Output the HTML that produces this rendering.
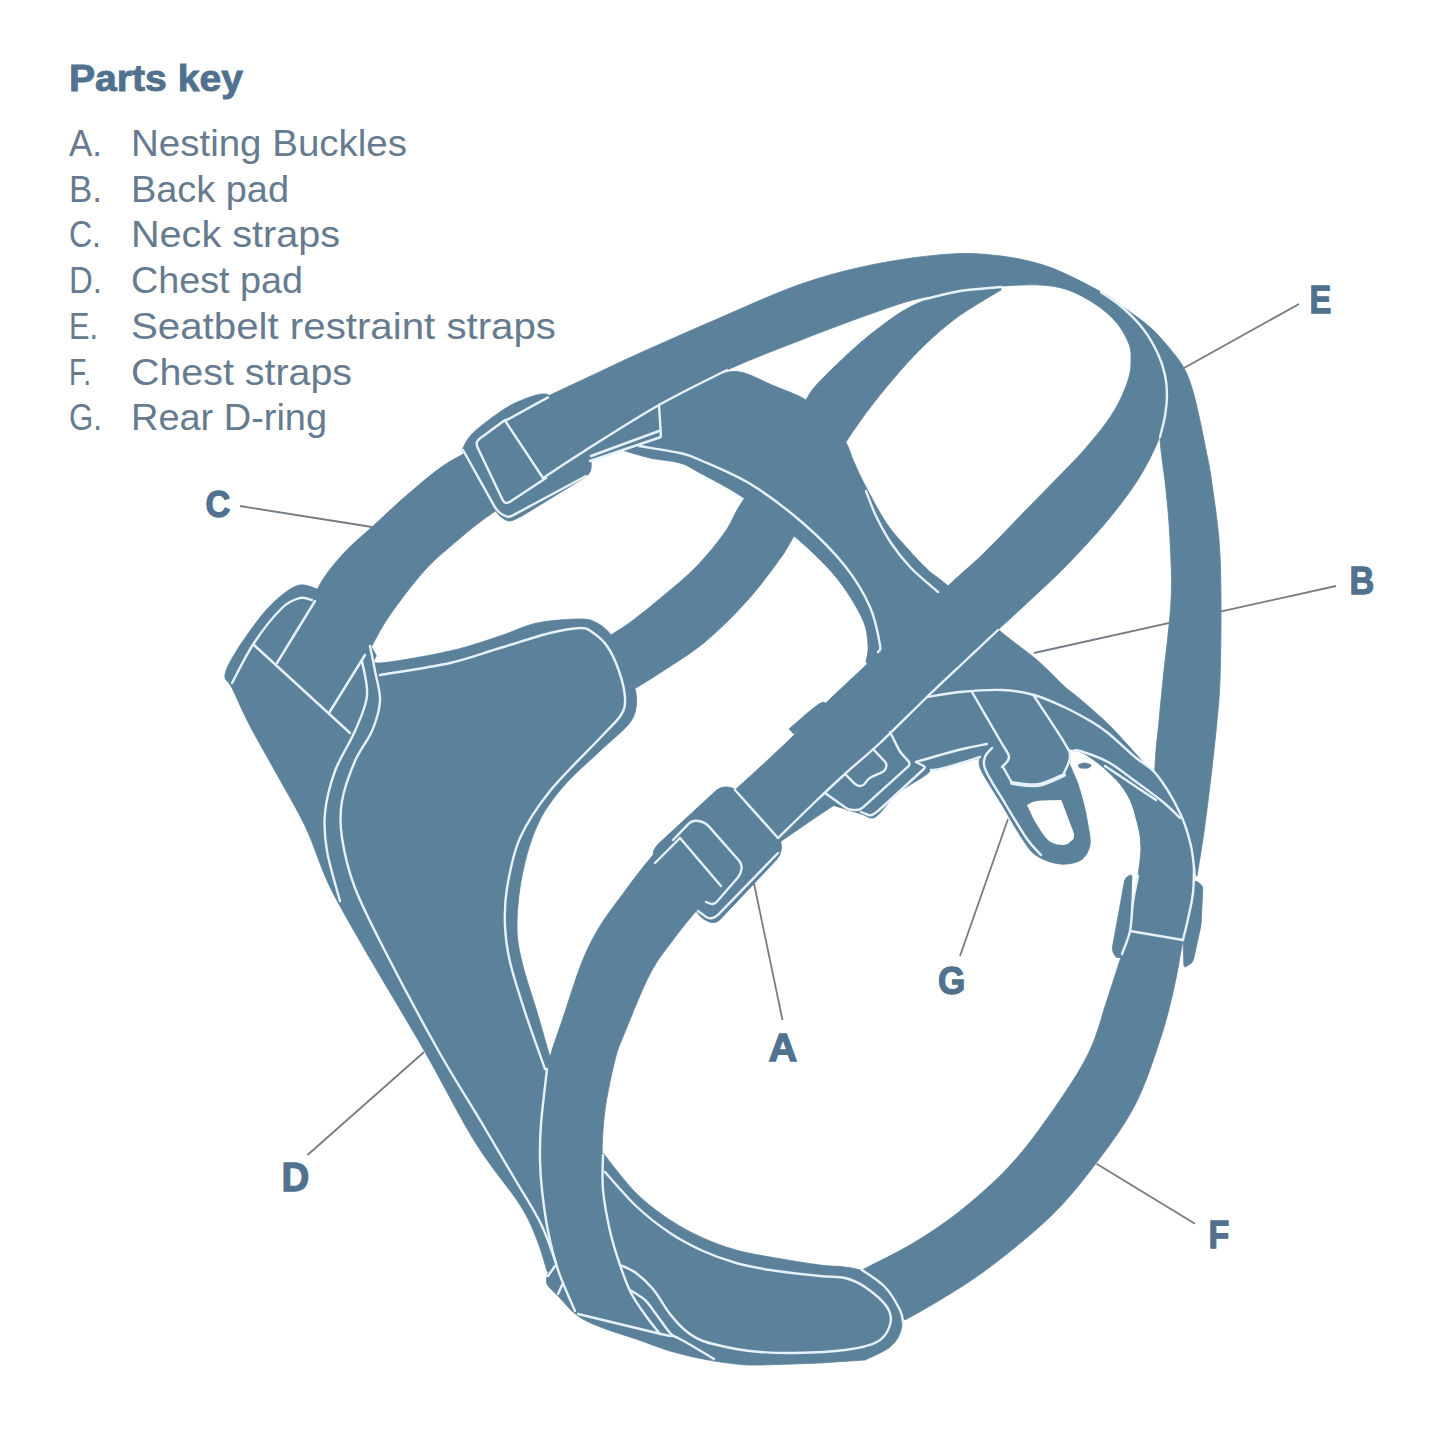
<!DOCTYPE html>
<html><head><meta charset="utf-8"><title>Parts key</title>
<style>
html,body{margin:0;padding:0;background:#fff;}
body{width:1445px;height:1445px;overflow:hidden;font-family:"Liberation Sans",sans-serif;}
svg{display:block;}
svg text{font-family:"Liberation Sans",sans-serif;}
</style></head><body>
<svg width="1445" height="1445" viewBox="0 0 1445 1445">
<rect width="1445" height="1445" fill="#ffffff"/>
<g stroke="#747c84" stroke-width="1.8" fill="none">
<path d="M1336.0 586.0 L1034.0 653.0"/>
</g>
<g fill="#5c819b" stroke="#5c819b" stroke-width="0.8" stroke-linejoin="round">
<path d="M540.0 399.0C541.3 398.5 538.8 400.2 548.0 396.0C557.2 391.8 579.7 381.2 595.0 374.0C610.3 366.8 620.0 362.0 640.0 353.0C660.0 344.0 688.2 331.5 715.0 320.0C741.8 308.5 774.2 293.3 801.0 284.0C827.8 274.7 851.0 269.0 876.0 264.0C901.0 259.0 930.2 255.3 951.0 254.0C971.8 252.7 986.2 254.3 1001.0 256.0C1015.8 257.7 1028.8 260.8 1040.0 264.0C1051.2 267.2 1058.8 270.8 1068.0 275.0C1077.2 279.2 1085.8 283.7 1095.0 289.0C1104.2 294.3 1113.7 300.5 1123.0 307.0C1132.3 313.5 1143.0 320.8 1151.0 328.0C1159.0 335.2 1165.5 343.3 1171.0 350.0C1176.5 356.7 1180.5 361.7 1184.0 368.0C1187.5 374.3 1189.5 380.0 1192.0 388.0C1194.5 396.0 1196.7 405.7 1199.0 416.0C1201.3 426.3 1204.0 439.8 1206.0 450.0C1208.0 460.2 1208.8 462.0 1211.0 477.0C1213.2 492.0 1217.3 519.3 1219.0 540.0C1220.7 560.7 1220.8 577.7 1221.0 601.0C1221.2 624.3 1220.7 660.0 1220.0 680.0C1219.3 700.0 1218.5 704.8 1217.0 721.0C1215.5 737.2 1213.2 758.5 1211.0 777.0C1208.8 795.5 1206.3 815.5 1204.0 832.0C1201.7 848.5 1198.2 868.7 1197.0 876.0L1150.0 876.0C1150.8 857.7 1153.5 791.8 1155.0 766.0C1156.5 740.2 1157.7 735.3 1159.0 721.0C1160.3 706.7 1161.0 700.0 1163.0 680.0C1165.0 660.0 1169.8 624.3 1171.0 601.0C1172.2 577.7 1170.8 558.5 1170.0 540.0C1169.2 521.5 1167.7 507.2 1166.0 490.0C1164.3 472.8 1160.2 449.3 1160.0 437.0C1159.8 424.7 1163.8 423.0 1165.0 416.0C1166.2 409.0 1167.0 401.8 1167.0 395.0C1167.0 388.2 1166.5 381.8 1165.0 375.0C1163.5 368.2 1161.5 361.5 1158.0 354.0C1154.5 346.5 1149.8 337.7 1144.0 330.0C1138.2 322.3 1130.2 314.3 1123.0 308.0C1115.8 301.7 1110.2 296.3 1101.0 292.0C1091.8 287.7 1078.2 284.0 1068.0 282.0C1057.8 280.0 1051.2 279.3 1040.0 280.0C1028.8 280.7 1020.0 283.2 1001.0 286.0C982.0 288.8 946.8 292.7 926.0 297.0C905.2 301.3 896.8 304.8 876.0 312.0C855.2 319.2 825.8 330.3 801.0 340.0C776.2 349.7 750.7 359.2 727.0 370.0C703.3 380.8 682.5 391.7 659.0 405.0C635.5 418.3 598.2 442.5 586.0 450.0Z"/>
<path d="M586.0 450.0L590.0 461.0L661.0 437.0L659.0 405.0Z"/>
<path d="M1001.0 286.0C1007.5 285.8 1028.8 284.3 1040.0 285.0C1051.2 285.7 1058.8 286.8 1068.0 290.0C1077.2 293.2 1087.0 298.7 1095.0 304.0C1103.0 309.3 1110.3 315.3 1116.0 322.0C1121.7 328.7 1126.5 337.5 1129.0 344.0C1131.5 350.5 1131.0 355.5 1131.0 361.0C1131.0 366.5 1130.8 370.5 1129.0 377.0C1127.2 383.5 1123.8 392.3 1120.0 400.0C1116.2 407.7 1112.0 414.7 1106.0 423.0C1100.0 431.3 1090.5 442.5 1084.0 450.0C1077.5 457.5 1076.8 457.8 1067.0 468.0C1057.2 478.2 1038.8 496.8 1025.0 511.0C1011.2 525.2 997.0 540.3 984.0 553.0C971.0 565.7 964.3 570.5 947.0 587.0C929.7 603.5 899.7 633.2 880.0 652.0C860.3 670.8 844.2 685.3 829.0 700.0C813.8 714.7 802.8 726.7 789.0 740.0C775.2 753.3 755.0 771.7 746.0 780.0C737.0 788.3 736.8 788.3 735.0 790.0L778.0 838.0C784.0 832.2 802.7 813.8 814.0 803.0C825.3 792.2 835.0 783.0 846.0 773.0C857.0 763.0 866.7 755.5 880.0 743.0C893.3 730.5 912.2 711.3 926.0 698.0C939.8 684.7 951.0 674.3 963.0 663.0C975.0 651.7 987.7 639.7 998.0 630.0C1008.3 620.3 1013.5 615.8 1025.0 605.0C1036.5 594.2 1053.2 579.2 1067.0 565.0C1080.8 550.8 1096.0 534.5 1108.0 520.0C1120.0 505.5 1130.7 491.2 1139.0 478.0C1147.3 464.8 1153.7 451.3 1158.0 441.0C1162.3 430.7 1163.5 423.7 1165.0 416.0C1166.5 408.3 1167.0 401.8 1167.0 395.0C1167.0 388.2 1166.5 381.8 1165.0 375.0C1163.5 368.2 1161.5 361.5 1158.0 354.0C1154.5 346.5 1149.8 337.7 1144.0 330.0C1138.2 322.3 1130.5 314.5 1123.0 308.0C1115.5 301.5 1111.0 297.7 1099.0 291.0C1087.0 284.3 1059.0 271.8 1051.0 268.0Z"/>
<path d="M789.0 729.0C794.0 724.8 813.2 707.5 819.0 704.0C824.8 700.5 828.2 703.0 824.0 708.0C819.8 713.0 799.0 729.7 794.0 734.0Z"/>
<path d="M778.0 838.0C789.3 827.2 832.0 781.0 846.0 773.0C860.0 765.0 864.2 784.5 862.0 790.0C859.8 795.5 846.7 797.3 833.0 806.0C819.3 814.7 788.8 836.0 780.0 842.0Z"/>
<path d="M1001.0 286.0C988.5 288.3 946.8 292.7 926.0 300.0C905.2 307.3 892.7 317.5 876.0 330.0C859.3 342.5 837.7 363.3 826.0 375.0C814.3 386.7 812.0 389.2 806.0 400.0C800.0 410.8 800.3 423.5 790.0 440.0C779.7 456.5 754.8 483.7 744.0 499.0C733.2 514.3 733.0 520.7 725.0 532.0C717.0 543.3 706.3 556.3 696.0 567.0C685.7 577.7 673.7 587.0 663.0 596.0C652.3 605.0 640.7 614.5 632.0 621.0C623.3 627.5 614.5 632.7 611.0 635.0L636.0 688.0C640.5 685.2 651.5 678.7 663.0 671.0C674.5 663.3 691.2 653.5 705.0 642.0C718.8 630.5 734.0 615.2 746.0 602.0C758.0 588.8 769.0 574.0 777.0 563.0C785.0 552.0 782.5 556.2 794.0 536.0C805.5 515.8 828.2 469.7 846.0 442.0C863.8 414.3 883.5 390.0 901.0 370.0C918.5 350.0 934.3 335.3 951.0 322.0C967.7 308.7 992.7 295.3 1001.0 290.0Z"/>
<path d="M622.0 450.0C625.0 445.0 630.3 429.7 640.0 420.0C649.7 410.3 667.5 399.3 680.0 392.0C692.5 384.7 705.0 379.3 715.0 376.0C725.0 372.7 730.5 370.5 740.0 372.0C749.5 373.5 761.0 380.3 772.0 385.0C783.0 389.7 797.0 394.2 806.0 400.0C815.0 405.8 819.5 413.2 826.0 420.0C832.5 426.8 840.3 434.0 845.0 441.0C849.7 448.0 850.5 454.3 854.0 462.0C857.5 469.7 860.5 476.7 866.0 487.0C871.5 497.3 880.0 513.7 887.0 524.0C894.0 534.3 901.2 541.3 908.0 549.0C914.8 556.7 921.5 564.0 928.0 570.0C934.5 576.0 935.0 574.8 947.0 585.0C959.0 595.2 985.0 618.5 1000.0 631.0C1015.0 643.5 1026.3 650.8 1037.0 660.0C1047.7 669.2 1056.8 679.5 1064.0 686.0C1071.2 692.5 1072.7 692.7 1080.0 699.0C1087.3 705.3 1098.8 715.0 1108.0 724.0C1117.2 733.0 1127.0 744.2 1135.0 753.0C1143.0 761.8 1149.0 768.3 1156.0 777.0C1163.0 785.7 1171.7 795.8 1177.0 805.0C1182.3 814.2 1185.0 820.5 1188.0 832.0C1191.0 843.5 1193.8 867.0 1195.0 874.0L1141.0 846.0C1140.5 842.5 1141.3 835.2 1138.0 825.0C1134.7 814.8 1132.8 798.2 1121.0 785.0C1109.2 771.8 1089.3 752.8 1067.0 746.0C1044.7 739.2 1009.8 748.3 987.0 744.0C964.2 739.7 947.8 730.7 930.0 720.0C912.2 709.3 888.3 686.7 880.0 680.0L866.0 662.0C866.3 659.2 868.7 652.3 868.0 645.0C867.3 637.7 867.5 629.5 862.0 618.0C856.5 606.5 846.5 589.8 835.0 576.0C823.5 562.2 808.2 548.0 793.0 535.0C777.8 522.0 759.5 508.3 744.0 498.0C728.5 487.7 710.7 478.8 700.0 473.0C689.3 467.2 688.3 465.5 680.0 463.0C671.7 460.5 659.7 460.2 650.0 458.0C640.3 455.8 626.7 451.3 622.0 450.0Z"/>
<path d="M300.0 640.0C302.8 631.7 310.0 604.2 317.0 590.0C324.0 575.8 332.8 565.5 342.0 555.0C351.2 544.5 361.2 537.0 372.0 527.0C382.8 517.0 395.7 504.8 407.0 495.0C418.3 485.2 430.3 475.0 440.0 468.0C449.7 461.0 460.8 455.5 465.0 453.0L497.0 510.0C494.2 512.0 486.5 517.0 480.0 522.0C473.5 527.0 467.2 532.0 458.0 540.0C448.8 548.0 436.3 557.5 425.0 570.0C413.7 582.5 399.2 601.8 390.0 615.0C380.8 628.2 378.3 634.8 370.0 649.0C361.7 663.2 345.0 691.5 340.0 700.0Z"/>
<path d="M462.0 450.0C463.8 447.2 465.7 440.0 473.0 433.0C480.3 426.0 496.0 414.2 506.0 408.0C516.0 401.8 526.3 398.3 533.0 396.0C539.7 393.7 543.2 393.8 546.0 394.0C548.8 394.2 549.3 396.5 550.0 397.0L586.0 450.0C586.8 452.0 590.3 458.3 591.0 462.0C591.7 465.7 591.2 469.3 590.0 472.0C588.8 474.7 585.0 477.0 584.0 478.0L522.0 516.0C520.0 516.8 513.5 520.8 510.0 521.0C506.5 521.2 503.5 518.8 501.0 517.0C498.5 515.2 496.0 511.2 495.0 510.0Z"/>
<path d="M317.0 589.0C314.2 588.3 305.8 584.0 300.0 585.0C294.2 586.0 288.3 590.0 282.0 595.0C275.7 600.0 269.5 605.8 262.0 615.0C254.5 624.2 243.2 640.0 237.0 650.0C230.8 660.0 225.8 668.7 225.0 675.0C224.2 681.3 227.8 679.5 232.0 688.0C236.2 696.5 242.8 712.2 250.0 726.0C257.2 739.8 265.8 754.3 275.0 771.0C284.2 787.7 296.7 808.5 305.0 826.0C313.3 843.5 319.2 862.7 325.0 876.0C330.8 889.3 332.2 891.7 340.0 906.0C347.8 920.3 357.8 937.7 372.0 962.0C386.2 986.3 407.8 1022.0 425.0 1052.0C442.2 1082.0 459.2 1116.5 475.0 1142.0C490.8 1167.5 509.7 1188.7 520.0 1205.0C530.3 1221.3 532.5 1229.0 537.0 1240.0C541.5 1251.0 545.3 1265.8 547.0 1271.0L560.0 1280.0L600.0 1200.0L550.0 1057.0C547.8 1049.5 541.7 1027.8 537.0 1012.0C532.3 996.2 525.3 976.3 522.0 962.0C518.7 947.7 517.0 940.3 517.0 926.0C517.0 911.7 518.7 892.7 522.0 876.0C525.3 859.3 530.3 840.7 537.0 826.0C543.7 811.3 551.5 800.5 562.0 788.0C572.5 775.5 589.0 761.5 600.0 751.0C611.0 740.5 622.0 732.2 628.0 725.0C634.0 717.8 634.8 714.2 636.0 708.0C637.2 701.8 636.7 695.8 635.0 688.0C633.3 680.2 630.0 669.8 626.0 661.0C622.0 652.2 615.8 641.3 611.0 635.0C606.2 628.7 602.2 625.7 597.0 623.0C591.8 620.3 590.0 619.0 580.0 619.0C570.0 619.0 550.3 620.2 537.0 623.0C523.7 625.8 514.5 631.3 500.0 636.0C485.5 640.7 470.0 646.5 450.0 651.0C430.0 655.5 392.3 662.3 380.0 663.0C367.7 663.7 377.5 657.8 376.0 655.0C374.5 652.2 371.8 647.5 371.0 646.0L368.0 650.0L340.0 620.0Z"/>
<path d="M715.8 790.8Q721.0 786.0 728.0 787.0L728.0 787.0Q735.0 788.0 739.7 793.3L777.3 835.7Q782.0 841.0 781.5 848.0L781.5 848.0Q781.0 855.0 776.2 860.1L720.7 919.0Q716.0 924.0 709.5 922.0L709.5 922.0Q703.0 920.0 698.8 914.6L654.7 857.5Q652.0 854.0 654.0 850.0L654.0 850.0Q656.0 846.0 659.3 843.0Z"/>
<path d="M653.0 855.0C650.8 857.7 644.7 865.0 640.0 871.0C635.3 877.0 631.7 881.8 625.0 891.0C618.3 900.2 607.2 914.2 600.0 926.0C592.8 937.8 587.8 947.7 582.0 962.0C576.2 976.3 570.8 994.2 565.0 1012.0C559.2 1029.8 551.0 1050.3 547.0 1069.0C543.0 1087.7 542.2 1108.8 541.0 1124.0C539.8 1139.2 539.8 1149.0 540.0 1160.0C540.2 1171.0 540.7 1178.2 542.0 1190.0C543.3 1201.8 545.3 1217.7 548.0 1231.0C550.7 1244.3 553.5 1256.7 558.0 1270.0C562.5 1283.3 572.2 1304.2 575.0 1311.0L660.0 1334.0C657.7 1331.0 650.8 1322.8 646.0 1316.0C641.2 1309.2 635.3 1301.5 631.0 1293.0C626.7 1284.5 623.5 1275.3 620.0 1265.0C616.5 1254.7 612.8 1243.5 610.0 1231.0C607.2 1218.5 604.3 1202.7 603.0 1190.0C601.7 1177.3 601.7 1168.3 602.0 1155.0C602.3 1141.7 602.8 1125.8 605.0 1110.0C607.2 1094.2 611.7 1073.0 615.0 1060.0C618.3 1047.0 619.2 1046.3 625.0 1032.0C630.8 1017.7 642.0 989.3 650.0 974.0C658.0 958.7 665.0 950.8 673.0 940.0C681.0 929.2 690.0 918.0 698.0 909.0C706.0 900.0 717.2 889.8 721.0 886.0Z"/>
<path d="M603.0 1153.0C608.5 1159.7 624.8 1181.8 636.0 1193.0C647.2 1204.2 658.8 1212.5 670.0 1220.0C681.2 1227.5 692.0 1233.0 703.0 1238.0C714.0 1243.0 724.8 1246.8 736.0 1250.0C747.2 1253.2 756.0 1254.5 770.0 1257.0C784.0 1259.5 807.5 1263.3 820.0 1265.0C832.5 1266.7 837.5 1265.8 845.0 1267.0C852.5 1268.2 858.3 1268.7 865.0 1272.0C871.7 1275.3 879.2 1280.7 885.0 1287.0C890.8 1293.3 897.3 1302.8 900.0 1310.0C902.7 1317.2 902.7 1323.8 901.0 1330.0C899.3 1336.2 896.0 1342.0 890.0 1347.0C884.0 1352.0 869.2 1357.8 865.0 1360.0L820.0 1363.0C810.0 1363.3 774.0 1364.8 760.0 1365.0C746.0 1365.2 745.5 1365.0 736.0 1364.0C726.5 1363.0 714.0 1361.2 703.0 1359.0C692.0 1356.8 681.2 1354.3 670.0 1351.0C658.8 1347.7 647.2 1342.8 636.0 1339.0C624.8 1335.2 612.7 1331.8 603.0 1328.0C593.3 1324.2 585.5 1321.3 578.0 1316.0C570.5 1310.7 563.2 1301.3 558.0 1296.0C552.8 1290.7 548.7 1287.8 547.0 1284.0C545.3 1280.2 547.8 1274.8 548.0 1273.0Z"/>
<path d="M890.0 732.0C896.2 726.2 915.3 703.7 927.0 697.0C938.7 690.3 947.5 693.2 960.0 692.0C972.5 690.8 989.7 689.5 1002.0 690.0C1014.3 690.5 1023.7 692.2 1034.0 695.0C1044.3 697.8 1054.3 702.5 1064.0 707.0C1073.7 711.5 1084.7 717.7 1092.0 722.0C1099.3 726.3 1100.8 727.2 1108.0 733.0C1115.2 738.8 1126.8 750.0 1135.0 757.0C1143.2 764.0 1149.5 765.7 1157.0 775.0C1164.5 784.3 1174.3 801.2 1180.0 813.0C1185.7 824.8 1188.7 837.0 1191.0 846.0C1193.3 855.0 1193.7 859.2 1194.0 867.0C1194.3 874.8 1194.0 884.3 1193.0 893.0C1192.0 901.7 1189.7 911.2 1188.0 919.0C1186.3 926.8 1185.3 928.5 1183.0 940.0C1180.7 951.5 1177.8 971.3 1174.0 988.0C1170.2 1004.7 1166.5 1020.5 1160.0 1040.0C1153.5 1059.5 1145.5 1084.7 1135.0 1105.0C1124.5 1125.3 1110.8 1143.7 1097.0 1162.0C1083.2 1180.3 1069.8 1197.5 1052.0 1215.0C1034.2 1232.5 1008.7 1252.8 990.0 1267.0C971.3 1281.2 954.2 1291.2 940.0 1300.0C925.8 1308.8 910.8 1316.7 905.0 1320.0L862.0 1270.0C870.8 1265.3 897.8 1252.5 915.0 1242.0C932.2 1231.5 948.3 1220.7 965.0 1207.0C981.7 1193.3 999.2 1177.8 1015.0 1160.0C1030.8 1142.2 1047.5 1118.3 1060.0 1100.0C1072.5 1081.7 1082.2 1066.7 1090.0 1050.0C1097.8 1033.3 1101.7 1016.0 1107.0 1000.0C1112.3 984.0 1118.2 965.5 1122.0 954.0C1125.8 942.5 1128.2 939.7 1130.0 931.0C1131.8 922.3 1131.7 911.2 1133.0 902.0C1134.3 892.8 1136.7 885.3 1138.0 876.0C1139.3 866.7 1141.0 854.5 1141.0 846.0C1141.0 837.5 1139.5 832.0 1138.0 825.0C1136.5 818.0 1134.8 810.7 1132.0 804.0C1129.2 797.3 1125.5 791.2 1121.0 785.0C1116.5 778.8 1109.8 771.7 1105.0 767.0C1100.2 762.3 1097.8 760.0 1092.0 757.0C1086.2 754.0 1078.7 751.0 1070.0 749.0C1061.3 747.0 1053.8 745.8 1040.0 745.0C1026.2 744.2 999.2 743.5 987.0 744.0C974.8 744.5 974.8 746.2 967.0 748.0C959.2 749.8 948.5 752.7 940.0 755.0C931.5 757.3 920.0 760.8 916.0 762.0Z"/>
<path d="M885.1 732.8Q888.0 730.0 889.9 733.5L898.1 748.5Q900.0 752.0 902.7 754.9L909.3 762.1Q912.0 765.0 909.1 767.7L864.9 808.3Q862.0 811.0 858.0 811.0L852.0 811.0Q848.0 811.0 844.8 808.7L826.2 795.3Q823.0 793.0 825.9 790.2Z"/>
<path d="M888.0 730.0C890.0 733.7 895.8 746.0 900.0 752.0C904.2 758.0 907.2 764.7 913.0 766.0C918.8 767.3 932.2 771.0 935.0 760.0C937.8 749.0 930.8 710.0 930.0 700.0Z"/>
<path d="M916.0 762.0C917.7 762.8 923.5 765.7 926.0 767.0C928.5 768.3 928.7 769.7 931.0 770.0C933.3 770.3 933.8 770.5 940.0 769.0C946.2 767.5 961.2 763.0 968.0 761.0C974.8 759.0 977.3 759.8 981.0 757.0C984.7 754.2 993.5 745.5 990.0 744.0C986.5 742.5 965.0 747.3 960.0 748.0Z"/>
<path d="M832.0 805.0C836.8 806.5 854.5 811.8 861.0 814.0C867.5 816.2 868.0 818.0 871.0 818.0C874.0 818.0 874.5 818.2 879.0 814.0C883.5 809.8 889.5 800.2 898.0 793.0C906.5 785.8 927.0 776.2 930.0 771.0C933.0 765.8 918.3 763.5 916.0 762.0Z"/>
<path d="M1131.9 877.0Q1132.0 874.0 1129.4 875.5L1127.6 876.5Q1125.0 878.0 1124.5 881.0L1112.5 947.0Q1112.0 950.0 1113.3 952.7L1114.7 955.3Q1116.0 958.0 1119.0 957.6L1120.0 957.4Q1123.0 957.0 1123.8 954.1L1129.2 933.9Q1130.0 931.0 1130.1 928.0Z"/>
<path d="M1194.4 882.9Q1195.0 880.0 1197.4 881.8L1200.6 884.2Q1203.0 886.0 1202.8 889.0L1201.2 922.0Q1201.0 925.0 1200.4 927.9L1193.6 959.1Q1193.0 962.0 1190.5 963.7L1186.5 966.3Q1184.0 968.0 1183.9 965.0L1183.1 943.0Q1183.0 940.0 1183.6 937.1Z"/>
<path d="M972.0 692.0C976.8 700.3 994.8 731.2 1001.0 742.0C1007.2 752.8 1008.7 752.8 1009.0 757.0C1009.3 761.2 1002.5 762.7 1003.0 767.0C1003.5 771.3 1005.8 779.8 1012.0 783.0C1018.2 786.2 1031.3 787.3 1040.0 786.0C1048.7 784.7 1059.0 779.8 1064.0 775.0C1069.0 770.2 1070.0 762.5 1070.0 757.0C1070.0 751.5 1070.0 752.2 1064.0 742.0C1058.0 731.8 1039.0 703.7 1034.0 696.0Z"/>
<path d="M980.0 757.0C980.2 759.2 977.3 762.0 981.0 770.0C984.7 778.0 995.0 793.3 1002.0 805.0C1009.0 816.7 1017.2 831.5 1023.0 840.0C1028.8 848.5 1030.8 852.0 1037.0 856.0C1043.2 860.0 1052.7 863.3 1060.0 864.0C1067.3 864.7 1076.0 863.2 1081.0 860.0C1086.0 856.8 1088.8 850.8 1090.0 845.0C1091.2 839.2 1089.0 831.7 1088.0 825.0C1087.0 818.3 1085.7 811.8 1084.0 805.0C1082.3 798.2 1080.3 790.7 1078.0 784.0C1075.7 777.3 1072.3 771.0 1070.0 765.0C1067.7 759.0 1075.5 751.8 1064.0 748.0C1052.5 744.2 1013.7 742.2 1001.0 742.0C988.3 741.8 990.2 746.2 988.0 747.0Z"/>
<path d="M1078.0 765.0C1079.0 764.7 1081.8 763.0 1084.0 763.0C1086.2 763.0 1090.3 764.2 1091.0 765.0C1091.7 765.8 1089.8 767.5 1088.0 768.0C1086.2 768.5 1081.3 768.0 1080.0 768.0Z"/>
</g>
<g fill="#ffffff" stroke="none">
<path d="M1027.0 805.0C1028.7 804.3 1031.8 801.8 1037.0 801.0C1042.2 800.2 1054.5 800.2 1058.0 800.0L1065.0 800.0C1066.5 805.5 1073.2 826.0 1074.0 833.0C1074.8 840.0 1072.0 840.0 1070.0 842.0C1068.0 844.0 1065.7 845.3 1062.0 845.0C1058.3 844.7 1052.7 844.2 1048.0 840.0C1043.3 835.8 1036.3 823.3 1034.0 820.0Z"/>
</g>
<g fill="#5c819b">
<path d="M1061.0 799.0C1062.2 798.8 1065.0 791.5 1068.0 798.0C1071.0 804.5 1077.7 831.2 1079.0 838.0C1080.3 844.8 1076.5 838.8 1076.0 839.0Z"/>
</g>
<g fill="none" stroke="#e6f2fb" stroke-width="2.4" stroke-linecap="round" stroke-linejoin="round">
<path d="M543.0 478.0C550.2 473.3 566.7 462.2 586.0 450.0C605.3 437.8 635.5 418.3 659.0 405.0C682.5 391.7 715.7 375.8 727.0 370.0"/>
<path d="M591.0 456.0 L659.0 431.0"/>
<path d="M590.0 461.0L659.6 437.5Q661.0 437.0 660.9 435.5L659.0 405.0"/>
<path d="M1101.0 292.0C1104.7 294.7 1115.8 301.7 1123.0 308.0C1130.2 314.3 1138.2 322.3 1144.0 330.0C1149.8 337.7 1154.5 346.5 1158.0 354.0C1161.5 361.5 1163.5 368.2 1165.0 375.0C1166.5 381.8 1167.0 388.2 1167.0 395.0C1167.0 401.8 1166.2 409.0 1165.0 416.0C1163.8 423.0 1160.8 433.5 1160.0 437.0"/>
<path d="M998.0 630.0C992.2 635.5 975.0 651.7 963.0 663.0C951.0 674.3 939.8 684.7 926.0 698.0C912.2 711.3 893.3 730.5 880.0 743.0C866.7 755.5 857.0 763.0 846.0 773.0C835.0 783.0 825.3 792.2 814.0 803.0C802.7 813.8 784.0 832.2 778.0 838.0"/>
<path d="M1001.0 287.0C994.2 287.7 972.5 289.0 960.0 291.0C947.5 293.0 931.7 297.7 926.0 299.0"/>
<path d="M639.0 446.0C645.8 447.2 669.8 450.7 680.0 453.0C690.2 455.3 688.0 454.7 700.0 460.0C712.0 465.3 734.7 474.3 752.0 485.0C769.3 495.7 788.5 510.5 804.0 524.0C819.5 537.5 834.0 552.2 845.0 566.0C856.0 579.8 864.2 593.8 870.0 607.0C875.8 620.2 878.7 637.5 880.0 645.0C881.3 652.5 878.3 650.8 878.0 652.0"/>
<path d="M866.0 491.0C867.7 495.2 871.8 507.3 876.0 516.0C880.2 524.7 885.2 534.3 891.0 543.0C896.8 551.7 903.2 559.8 911.0 568.0C918.8 576.2 933.5 588.0 938.0 592.0"/>
<path d="M463.0 450.0L494.6 506.6Q497.0 511.0 501.2 513.7L503.8 515.3Q508.0 518.0 512.4 515.6L586.0 476.0"/>
<path d="M505.0 420.0L479.8 438.5Q475.0 442.0 477.6 447.4L502.4 499.6Q505.0 505.0 510.0 501.7L546.0 478.0"/>
<path d="M505.6 421.5 L543.0 478.0"/>
<path d="M505.6 420.6 L548.0 397.4"/>
<path d="M380.0 675.0C391.7 673.0 430.0 667.5 450.0 663.0C470.0 658.5 483.3 653.0 500.0 648.0C516.7 643.0 536.7 636.3 550.0 633.0C563.3 629.7 573.0 628.2 580.0 628.0C587.0 627.8 587.5 629.0 592.0 632.0C596.5 635.0 602.5 639.5 607.0 646.0C611.5 652.5 616.0 662.3 619.0 671.0C622.0 679.7 624.7 690.7 625.0 698.0C625.3 705.3 625.0 708.5 621.0 715.0C617.0 721.5 612.8 724.3 601.0 737.0C589.2 749.7 563.5 774.2 550.0 791.0C536.5 807.8 527.2 821.8 520.0 838.0C512.8 854.2 509.5 873.3 507.0 888.0C504.5 902.7 504.5 913.7 505.0 926.0C505.5 938.3 506.7 947.7 510.0 962.0C513.3 976.3 519.2 994.2 525.0 1012.0C530.8 1029.8 541.7 1059.5 545.0 1069.0"/>
<path d="M370.0 646.0C370.8 650.2 373.3 661.8 375.0 671.0C376.7 680.2 380.5 691.0 380.0 701.0C379.5 711.0 376.2 721.0 372.0 731.0C367.8 741.0 360.0 749.3 355.0 761.0C350.0 772.7 344.2 788.2 342.0 801.0C339.8 813.8 339.8 823.5 342.0 838.0C344.2 852.5 347.8 869.2 355.0 888.0C362.2 906.8 371.2 924.0 385.0 951.0C398.8 978.0 421.7 1021.0 438.0 1050.0C454.3 1079.0 470.0 1103.2 483.0 1125.0C496.0 1146.8 506.3 1164.5 516.0 1181.0C525.7 1197.5 534.3 1210.3 541.0 1224.0C547.7 1237.7 553.5 1256.5 556.0 1263.0"/>
<path d="M362.0 661.0C362.8 666.8 368.2 684.3 367.0 696.0C365.8 707.7 360.3 718.5 355.0 731.0C349.7 743.5 340.0 757.3 335.0 771.0C330.0 784.7 326.3 799.7 325.0 813.0C323.7 826.3 324.5 836.3 327.0 851.0C329.5 865.7 337.8 892.7 340.0 901.0"/>
<path d="M232.0 683.0C235.7 676.3 245.7 655.5 254.0 643.0C262.3 630.5 274.3 615.5 282.0 608.0C289.7 600.5 295.0 599.3 300.0 598.0C305.0 596.7 310.0 599.7 312.0 600.0"/>
<path d="M254.0 645.0 L350.0 733.0"/>
<path d="M315.0 601.0 L277.0 663.0"/>
<path d="M365.0 655.0 L329.0 713.0"/>
<path d="M735.0 790.0L778.0 838.0"/>
<path d="M778.0 853.0L718.5 914.4Q716.0 917.0 712.5 918.0L712.5 918.0Q709.0 919.0 706.1 916.9L698.0 911.0"/>
<path d="M673.0 840.0L687.5 824.8Q692.0 820.0 698.5 821.0L698.5 821.0Q705.0 822.0 709.3 826.9L738.7 860.2Q742.0 864.0 741.5 869.0L741.5 869.0Q741.0 874.0 737.7 877.8L716.8 901.8Q714.0 905.0 710.0 903.5L706.0 902.0"/>
<path d="M680.0 838.0 L721.0 886.0"/>
<path d="M655.0 863.0 L680.0 838.0"/>
<path d="M547.0 1069.0C546.0 1078.2 542.2 1108.8 541.0 1124.0C539.8 1139.2 539.8 1149.0 540.0 1160.0C540.2 1171.0 540.7 1178.2 542.0 1190.0C543.3 1201.8 545.3 1217.7 548.0 1231.0C550.7 1244.3 553.5 1256.7 558.0 1270.0C562.5 1283.3 572.2 1304.2 575.0 1311.0"/>
<path d="M603.0 1155.0C603.0 1160.8 601.8 1177.3 603.0 1190.0C604.2 1202.7 607.2 1218.5 610.0 1231.0C612.8 1243.5 616.5 1254.7 620.0 1265.0C623.5 1275.3 626.7 1284.5 631.0 1293.0C635.3 1301.5 641.2 1309.2 646.0 1316.0C650.8 1322.8 657.7 1331.0 660.0 1334.0"/>
<path d="M605.0 1172.0C610.2 1177.7 625.2 1195.8 636.0 1206.0C646.8 1216.2 658.8 1225.5 670.0 1233.0C681.2 1240.5 692.0 1246.0 703.0 1251.0C714.0 1256.0 724.8 1259.8 736.0 1263.0C747.2 1266.2 756.0 1267.8 770.0 1270.0C784.0 1272.2 807.5 1274.7 820.0 1276.0C832.5 1277.3 837.5 1276.2 845.0 1278.0C852.5 1279.8 858.0 1282.2 865.0 1287.0C872.0 1291.8 882.8 1300.7 887.0 1307.0C891.2 1313.3 891.7 1319.2 890.0 1325.0C888.3 1330.8 884.5 1337.8 877.0 1342.0C869.5 1346.2 858.7 1348.2 845.0 1350.0C831.3 1351.8 809.2 1352.7 795.0 1353.0C780.8 1353.3 769.8 1352.7 760.0 1352.0C750.2 1351.3 745.5 1350.8 736.0 1349.0C726.5 1347.2 711.3 1344.0 703.0 1341.0C694.7 1338.0 691.5 1335.5 686.0 1331.0C680.5 1326.5 675.5 1321.0 670.0 1314.0C664.5 1307.0 658.7 1295.8 653.0 1289.0C647.3 1282.2 641.5 1277.0 636.0 1273.0C630.5 1269.0 622.7 1266.3 620.0 1265.0"/>
<path d="M630.0 1290.0C632.5 1291.7 640.7 1296.0 645.0 1300.0C649.3 1304.0 651.8 1308.5 656.0 1314.0C660.2 1319.5 666.3 1329.0 670.0 1333.0C673.7 1337.0 676.7 1337.2 678.0 1338.0"/>
<path d="M578.0 1314.0C591.8 1317.3 644.3 1330.0 661.0 1334.0C677.7 1338.0 669.2 1333.8 678.0 1338.0C686.8 1342.2 708.0 1355.5 714.0 1359.0"/>
<path d="M555.0 1266.0 L548.0 1276.0"/>
<path d="M563.0 1283.0 L558.0 1294.0"/>
<path d="M862.0 1270.0C865.8 1272.8 878.7 1280.3 885.0 1287.0C891.3 1293.7 897.0 1304.0 900.0 1310.0C903.0 1316.0 902.5 1320.8 903.0 1323.0"/>
<path d="M927.0 697.0C932.5 696.2 947.5 693.2 960.0 692.0C972.5 690.8 989.7 689.5 1002.0 690.0C1014.3 690.5 1023.7 692.2 1034.0 695.0C1044.3 697.8 1054.3 702.5 1064.0 707.0C1073.7 711.5 1084.7 717.7 1092.0 722.0C1099.3 726.3 1100.8 727.2 1108.0 733.0C1115.2 738.8 1126.8 750.0 1135.0 757.0C1143.2 764.0 1149.5 765.7 1157.0 775.0C1164.5 784.3 1174.3 801.2 1180.0 813.0C1185.7 824.8 1188.5 835.2 1191.0 846.0C1193.5 856.8 1194.3 872.7 1195.0 878.0"/>
<path d="M1073.0 751.0C1074.2 751.0 1074.2 749.2 1080.0 751.0C1085.8 752.8 1098.8 757.0 1108.0 762.0C1117.2 767.0 1125.8 774.3 1135.0 781.0C1144.2 787.7 1155.5 795.8 1163.0 802.0C1170.5 808.2 1177.2 815.3 1180.0 818.0"/>
<path d="M1105.0 766.0C1110.0 769.3 1126.5 780.3 1135.0 786.0C1143.5 791.7 1152.5 797.7 1156.0 800.0"/>
<path d="M916.0 762.0C920.0 760.8 931.5 757.3 940.0 755.0C948.5 752.7 959.2 749.8 967.0 748.0C974.8 746.2 983.7 744.7 987.0 744.0"/>
<path d="M890.0 732.0L898.2 748.4Q900.0 752.0 902.7 754.9L908.3 761.1Q911.0 764.0 908.0 766.7L863.0 807.3Q860.0 810.0 856.0 810.0L853.0 810.0Q849.0 810.0 845.7 807.7L825.0 793.0"/>
<path d="M846.0 775.0L854.9 783.9Q857.0 786.0 860.0 786.0L860.0 786.0Q863.0 786.0 864.8 783.6L867.2 780.4Q869.0 778.0 871.7 776.8L882.3 772.2Q885.0 771.0 885.8 768.1L886.2 766.9Q887.0 764.0 885.0 761.8L873.0 749.0"/>
<path d="M916.0 762.0L923.3 765.7Q926.0 767.0 923.8 769.0L880.2 809.0Q878.0 811.0 875.6 812.7L873.4 814.3Q871.0 816.0 868.2 814.9L861.0 812.0"/>
<path d="M931.0 770.0C932.5 769.8 933.8 770.5 940.0 769.0C946.2 767.5 961.3 763.0 968.0 761.0C974.7 759.0 978.0 757.7 980.0 757.0"/>
<path d="M1130.0 931.0 L1183.0 940.0"/>
<path d="M1138.0 876.0C1137.2 880.3 1134.3 892.8 1133.0 902.0C1131.7 911.2 1131.8 922.3 1130.0 931.0C1128.2 939.7 1123.3 950.2 1122.0 954.0"/>
<path d="M1194.0 867.0C1193.8 871.3 1194.0 884.3 1193.0 893.0C1192.0 901.7 1189.7 911.2 1188.0 919.0C1186.3 926.8 1183.8 936.5 1183.0 940.0"/>
<path d="M972.0 692.0C976.8 700.3 994.8 731.2 1001.0 742.0C1007.2 752.8 1008.8 752.8 1009.0 757.0C1009.2 761.2 1003.2 765.3 1002.0 767.0"/>
<path d="M1034.0 696.0C1039.0 703.7 1058.0 731.8 1064.0 742.0C1070.0 752.2 1070.0 751.8 1070.0 757.0C1070.0 762.2 1065.0 770.3 1064.0 773.0"/>
<path d="M1012.0 783.0C1016.3 783.3 1029.3 786.3 1038.0 785.0C1046.7 783.7 1059.7 776.7 1064.0 775.0" stroke-width="4"/>
<path d="M992.0 748.0C990.8 749.5 986.0 753.2 985.0 757.0C984.0 760.8 982.5 763.0 986.0 771.0C989.5 779.0 999.2 793.7 1006.0 805.0C1012.8 816.3 1021.2 830.7 1027.0 839.0C1032.8 847.3 1038.7 852.3 1041.0 855.0"/>
<path d="M1003.0 767.0 L1012.0 783.0"/>
</g>
<g stroke="#747c84" stroke-width="1.8" fill="none">
<path d="M240.0 506.0 L372.0 527.0"/>
<path d="M1299.0 304.0 L1184.0 368.0"/>
<path d="M307.5 1155.0 L424.0 1052.0"/>
<path d="M753.8 882.5 L782.5 1020.0"/>
<path d="M1008.0 819.0 L960.0 956.0"/>
<path d="M1096.5 1163.8 L1195.0 1223.8"/>
</g>
<g font-family="Liberation Sans, sans-serif">
<text x="69" y="91" font-size="37.5" font-weight="bold" fill="#50728f" stroke="#50728f" stroke-width="0.9" textLength="174" lengthAdjust="spacingAndGlyphs">Parts key</text>
<text x="69" y="156.0" font-size="37" fill="#667b8f" textLength="33" lengthAdjust="spacingAndGlyphs">A.</text>
<text x="131" y="156.0" font-size="37" fill="#667b8f" textLength="276" lengthAdjust="spacingAndGlyphs">Nesting Buckles</text>
<text x="69" y="201.7" font-size="37" fill="#667b8f" textLength="33" lengthAdjust="spacingAndGlyphs">B.</text>
<text x="131" y="201.7" font-size="37" fill="#667b8f" textLength="158" lengthAdjust="spacingAndGlyphs">Back pad</text>
<text x="69" y="247.4" font-size="37" fill="#667b8f" textLength="32" lengthAdjust="spacingAndGlyphs">C.</text>
<text x="131" y="247.4" font-size="37" fill="#667b8f" textLength="209" lengthAdjust="spacingAndGlyphs">Neck straps</text>
<text x="69" y="293.1" font-size="37" fill="#667b8f" textLength="33" lengthAdjust="spacingAndGlyphs">D.</text>
<text x="131" y="293.1" font-size="37" fill="#667b8f" textLength="172" lengthAdjust="spacingAndGlyphs">Chest pad</text>
<text x="69" y="338.8" font-size="37" fill="#667b8f" textLength="29" lengthAdjust="spacingAndGlyphs">E.</text>
<text x="131" y="338.8" font-size="37" fill="#667b8f" textLength="425" lengthAdjust="spacingAndGlyphs">Seatbelt restraint straps</text>
<text x="69" y="384.5" font-size="37" fill="#667b8f" textLength="22" lengthAdjust="spacingAndGlyphs">F.</text>
<text x="131" y="384.5" font-size="37" fill="#667b8f" textLength="221" lengthAdjust="spacingAndGlyphs">Chest straps</text>
<text x="69" y="430.2" font-size="37" fill="#667b8f" textLength="33" lengthAdjust="spacingAndGlyphs">G.</text>
<text x="131" y="430.2" font-size="37" fill="#667b8f" textLength="196" lengthAdjust="spacingAndGlyphs">Rear D-ring</text>
<text x="205.6" y="517.4" font-size="37.5" font-weight="bold" fill="#50728f" stroke="#50728f" stroke-width="1.3" stroke-linejoin="miter" textLength="24.8" lengthAdjust="spacingAndGlyphs">C</text>
<text x="1309.6" y="313.4" font-size="38.9" font-weight="bold" fill="#50728f" stroke="#50728f" stroke-width="1.3" stroke-linejoin="miter" textLength="21.8" lengthAdjust="spacingAndGlyphs">E</text>
<text x="1349.6" y="594.4" font-size="38.9" font-weight="bold" fill="#50728f" stroke="#50728f" stroke-width="1.3" stroke-linejoin="miter" textLength="24.8" lengthAdjust="spacingAndGlyphs">B</text>
<text x="281.6" y="1191.4" font-size="40.2" font-weight="bold" fill="#50728f" stroke="#50728f" stroke-width="1.3" stroke-linejoin="miter" textLength="27.8" lengthAdjust="spacingAndGlyphs">D</text>
<text x="768.6" y="1061.4" font-size="39.6" font-weight="bold" fill="#50728f" stroke="#50728f" stroke-width="1.3" stroke-linejoin="miter" textLength="28.8" lengthAdjust="spacingAndGlyphs">A</text>
<text x="938.1" y="994.4" font-size="38.9" font-weight="bold" fill="#50728f" stroke="#50728f" stroke-width="1.3" stroke-linejoin="miter" textLength="27.3" lengthAdjust="spacingAndGlyphs">G</text>
<text x="1208.6" y="1247.9" font-size="39.6" font-weight="bold" fill="#50728f" stroke="#50728f" stroke-width="1.3" stroke-linejoin="miter" textLength="20.8" lengthAdjust="spacingAndGlyphs">F</text>
</g>
</svg>
</body></html>
